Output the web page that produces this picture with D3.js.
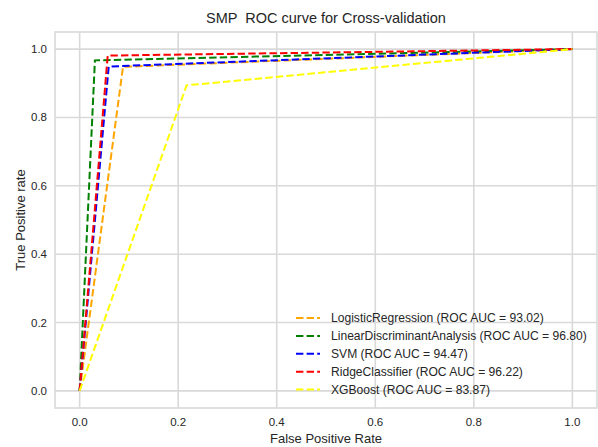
<!DOCTYPE html>
<html>
<head>
<meta charset="utf-8">
<script src="https://cdn.jsdelivr.net/npm/d3@7"></script>
<style>
  body { margin: 0; background: #fff; }
  text { font-family: "Liberation Sans", Arial, sans-serif; fill: #262626; white-space: pre; }
</style>
</head>
<body>
<div id="chart"></div>
<script>
// one ROC point per model, curves go (0,0) -> (fpr,tpr) -> (1,1)
const models = ["LogisticRegression", "LinearDiscriminantAnalysis", "SVM", "RidgeClassifier", "XGBoost"];
const aucs = ["93.02", "96.80", "94.47", "96.22", "83.87"];
const fprs = [0.088, 0.031, 0.059, 0.057, 0.217];
const tprs = [0.948, 0.967, 0.949, 0.981, 0.894];
const colors = ["orange", "green", "blue", "red", "yellow"];
const ticks = [0, 0.2, 0.4, 0.6, 0.8, 1.0];

const svgWidth = 598, svgHeight = 447;
const margin = { top: 32, right: 1, bottom: 39, left: 55 },
  width = svgWidth - margin.left - margin.right,
  height = svgHeight - margin.top - margin.bottom;

const svg = d3.select("#chart").append("svg")
    .attr("width", svgWidth)
    .attr("height", svgHeight)
  .append("g")
    .attr("transform", "translate(" + margin.left + "," + margin.top + ")");

const x = d3.scaleLinear().domain([-0.05, 1.05]).range([0, width]);
const y = d3.scaleLinear().domain([-0.05, 1.05]).range([height, 0]);

// grid
svg.append("g").selectAll("line").data(ticks).join("line")
    .attr("x1", d => x(d)).attr("x2", d => x(d))
    .attr("y1", 0).attr("y2", height)
    .attr("stroke", "#d9d9d9").attr("stroke-width", 1.6);
svg.append("g").selectAll("line").data(ticks).join("line")
    .attr("y1", d => y(d)).attr("y2", d => y(d))
    .attr("x1", 0).attr("x2", width)
    .attr("stroke", "#d9d9d9").attr("stroke-width", 1.6);

// frame
svg.append("rect")
    .attr("width", width).attr("height", height)
    .attr("fill", "none").attr("stroke", "#d9d9d9").attr("stroke-width", 1.6);

// tick labels
svg.append("g").selectAll("text").data(ticks).join("text")
    .attr("x", d => x(d)).attr("y", height + 18)
    .attr("text-anchor", "middle").attr("font-size", 11.5)
    .text(d => d.toFixed(1));
svg.append("g").selectAll("text").data(ticks).join("text")
    .attr("x", -8).attr("y", d => y(d) + 4)
    .attr("text-anchor", "end").attr("font-size", 11.5)
    .text(d => d.toFixed(1));

// curves
const line = d3.line().x(d => x(d[0])).y(d => y(d[1]));
models.forEach((m, i) => {
  svg.append("path")
      .datum([[0, 0], [fprs[i], tprs[i]], [1, 1]])
      .attr("fill", "none")
      .attr("stroke", colors[i])
      .attr("stroke-width", 2)
      .attr("stroke-dasharray", "7.4,3.2")
      .attr("d", line);
});

// legend
const legend = svg.append("g").attr("transform", "translate(241,286)");
models.forEach((m, i) => {
  const g = legend.append("g").attr("transform", "translate(0," + (i * 17.9) + ")");
  g.append("line").attr("x1", 0).attr("x2", 24).attr("y1", 0).attr("y2", 0)
      .attr("stroke", colors[i]).attr("stroke-width", 2).attr("stroke-dasharray", "7.4,3.2");
  g.append("text").attr("x", 35).attr("y", 4.2).attr("font-size", 12.1)
      .text(m + " (ROC AUC = " + aucs[i] + ")");
});

// labels
svg.append("text")
    .attr("x", width / 2).attr("y", -9)
    .attr("text-anchor", "middle").attr("font-size", 14.5)
    .text("SMP  ROC curve for Cross-validation");
svg.append("text")
    .attr("x", width / 2).attr("y", height + 35)
    .attr("text-anchor", "middle").attr("font-size", 13)
    .text("False Positive Rate");
svg.append("text")
    .attr("transform", "rotate(-90)")
    .attr("x", -height / 2).attr("y", -30)
    .attr("text-anchor", "middle").attr("font-size", 13)
    .text("True Positive rate");
</script>
</body>
</html>
